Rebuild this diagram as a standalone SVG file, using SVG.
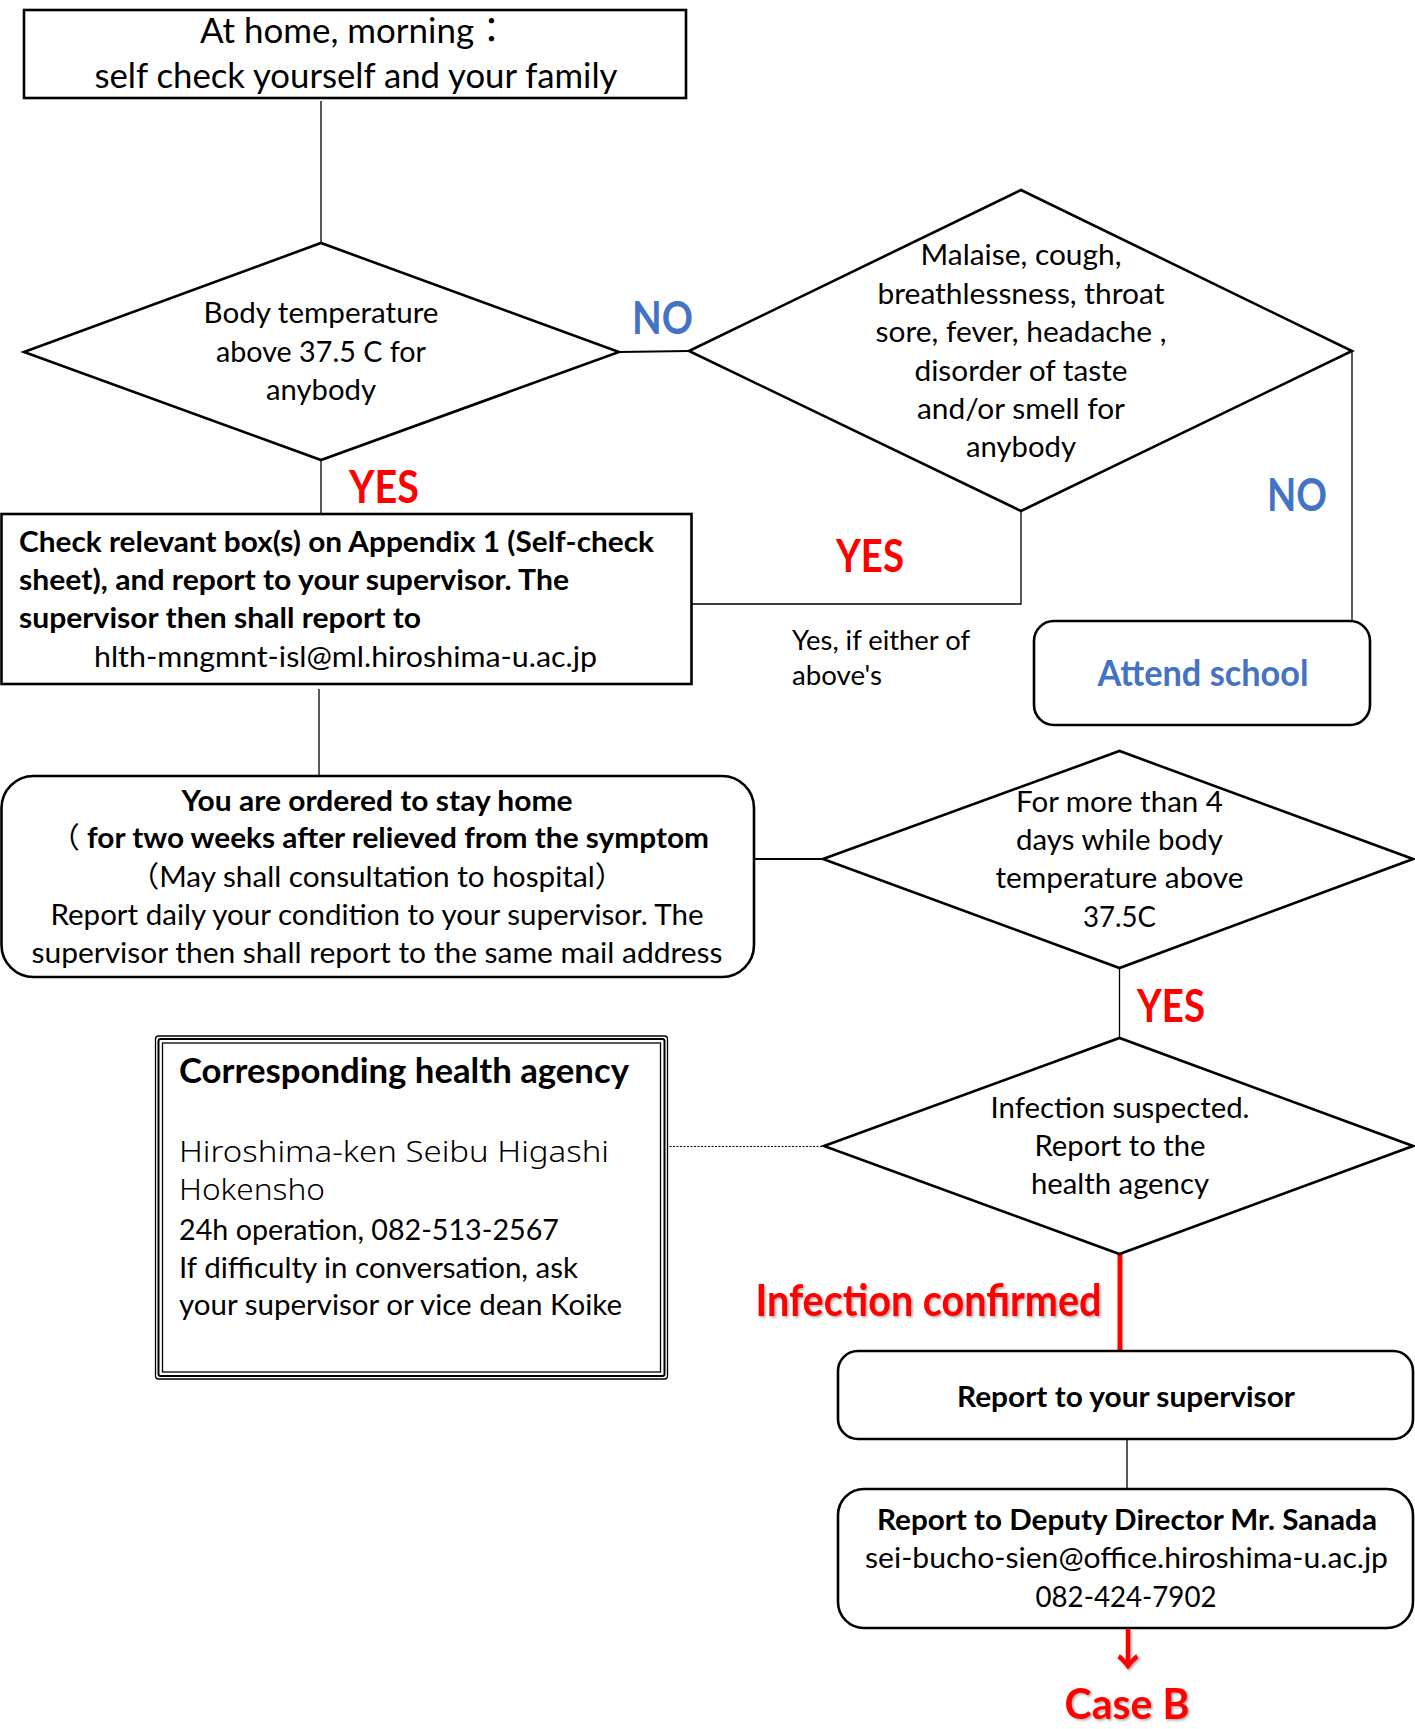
<svg xmlns="http://www.w3.org/2000/svg" width="1415" height="1729" viewBox="0 0 1415 1729">
<style>
.box{fill:#fff;stroke:#000;stroke-width:2.6}
.dia{fill:#fff;stroke:#000;stroke-width:2.6;stroke-linejoin:miter}
.conn{fill:none;stroke:#000;stroke-width:1.3}
.conn2{fill:none;stroke:#000;stroke-width:2}
.t{font-family:Lato,"Noto Sans CJK JP",sans-serif;font-size:29px;fill:#000}
.b{font-weight:bold}
.m{text-anchor:middle}
.no{font-family:Lato,sans-serif;font-weight:bold;font-size:45px;fill:#4472C4}
.yes{font-family:Lato,sans-serif;font-weight:bold;font-size:45px;fill:#FF0000}
.red{fill:#FF0000;font-weight:bold}
.hk{font-family:"Noto Sans","Noto Sans CJK JP",sans-serif;font-weight:300;font-size:29px;fill:#000}
</style>
<defs>
<filter id="sh" x="-10%" y="-10%" width="130%" height="140%">
<feDropShadow dx="1.5" dy="1.5" stdDeviation="1" flood-color="#000" flood-opacity="0.35"/>
</filter>
</defs>
<rect width="1415" height="1729" fill="#fff"/>

<g id="connectors">
<line class="conn" x1="321" y1="101" x2="321" y2="243"/>
<line class="conn2" x1="619" y1="352" x2="689" y2="351"/>
<line class="conn" x1="1352" y1="351" x2="1352" y2="621"/>
<polyline class="conn" points="1021,511 1021,604 692,604"/>
<line class="conn" x1="321" y1="460" x2="321" y2="514"/>
<line class="conn" x1="319" y1="689" x2="319" y2="776"/>
<line class="conn2" x1="754" y1="859" x2="823" y2="859"/>
<line class="conn" x1="1119.5" y1="968" x2="1119.5" y2="1038"/>
<line x1="659" y1="1146.5" x2="823" y2="1146.5" stroke="#000" stroke-width="1" stroke-dasharray="2 1.5"/>
<line x1="1120" y1="1254" x2="1120" y2="1351" stroke="#FF0000" stroke-width="5"/>
<line class="conn" x1="1127" y1="1440" x2="1127" y2="1488"/>
</g>

<g id="n-start">
<rect class="box" x="24" y="10" width="662" height="88"/>
<text class="t" x="200" y="43" style="font-size:35px" textLength="309" lengthAdjust="spacingAndGlyphs">At home, morning：</text>
<text class="t m" x="356" y="88" style="font-size:35px" textLength="523" lengthAdjust="spacingAndGlyphs">self check yourself and your family</text>
</g>

<g id="n-temp">
<polygon class="dia" points="24,352 321,243 619,352 321,460"/>
<text class="t m" x="321" y="323" textLength="235" lengthAdjust="spacingAndGlyphs">Body temperature</text>
<text class="t m" x="321" y="362" textLength="210" lengthAdjust="spacingAndGlyphs">above 37.5 C for</text>
<text class="t m" x="321" y="400" textLength="110" lengthAdjust="spacingAndGlyphs">anybody</text>
</g>

<g id="n-symptoms">
<polygon class="dia" points="689,351 1021,190 1352,351 1021,511"/>
<text class="t m" x="1021" y="265" textLength="201" lengthAdjust="spacingAndGlyphs">Malaise, cough,</text>
<text class="t m" x="1021" y="304" textLength="287" lengthAdjust="spacingAndGlyphs">breathlessness, throat</text>
<text class="t m" x="1021" y="342" textLength="291" lengthAdjust="spacingAndGlyphs">sore, fever, headache ,</text>
<text class="t m" x="1021" y="381" textLength="213" lengthAdjust="spacingAndGlyphs">disorder of taste</text>
<text class="t m" x="1021" y="419" textLength="208" lengthAdjust="spacingAndGlyphs">and/or smell for</text>
<text class="t m" x="1021" y="457" textLength="110" lengthAdjust="spacingAndGlyphs">anybody</text>
</g>

<g id="labels">
<text class="no" x="632" y="334" textLength="61" lengthAdjust="spacingAndGlyphs">NO</text>
<text class="no" x="1267" y="511" textLength="60" lengthAdjust="spacingAndGlyphs">NO</text>
<text class="yes" x="349" y="503" textLength="70" lengthAdjust="spacingAndGlyphs">YES</text>
<text class="yes" x="836" y="572" textLength="68" lengthAdjust="spacingAndGlyphs">YES</text>
<text class="yes" x="1137" y="1022" textLength="68" lengthAdjust="spacingAndGlyphs">YES</text>
<text class="t" x="792" y="650" style="font-size:27px" textLength="178" lengthAdjust="spacingAndGlyphs">Yes, if either of</text>
<text class="t" x="792" y="685" style="font-size:27px" textLength="90" lengthAdjust="spacingAndGlyphs">above's</text>
<text class="t red" x="755.5" y="1316" style="font-size:44px" textLength="346" lengthAdjust="spacingAndGlyphs" filter="url(#sh)">Infection confirmed</text>
</g>

<g id="n-check">
<rect class="box" x="1.5" y="514" width="690" height="170"/>
<text class="t b" x="19" y="552" textLength="635" lengthAdjust="spacingAndGlyphs">Check relevant box(s) on Appendix 1 (Self-check</text>
<text class="t b" x="19" y="590" textLength="550" lengthAdjust="spacingAndGlyphs">sheet), and report to your supervisor. The</text>
<text class="t b" x="19" y="628" textLength="402" lengthAdjust="spacingAndGlyphs">supervisor then shall report to</text>
<text class="t m" x="345.5" y="667" textLength="503" lengthAdjust="spacingAndGlyphs">hlth-mngmnt-isl@ml.hiroshima-u.ac.jp</text>
</g>

<g id="n-attend">
<rect class="box" x="1034" y="621" width="336" height="104" rx="20"/>
<text class="t b m" x="1203" y="686" style="font-size:36px;fill:#4472C4" textLength="211" lengthAdjust="spacingAndGlyphs">Attend school</text>
</g>

<g id="n-stayhome">
<rect class="box" x="1.5" y="776" width="752.5" height="201" rx="32"/>
<text class="t b m" x="377" y="811" textLength="391" lengthAdjust="spacingAndGlyphs">You are ordered to stay home</text>
<text class="t b" x="50" y="848" textLength="659" lengthAdjust="spacingAndGlyphs"><tspan font-weight="normal">（</tspan> for two weeks after relieved from the symptom</text>
<text class="t m" x="377" y="887" textLength="495" lengthAdjust="spacingAndGlyphs">（May shall consultation to hospital）</text>
<text class="t m" x="377" y="925" textLength="653" lengthAdjust="spacingAndGlyphs">Report daily your condition to your supervisor. The</text>
<text class="t m" x="377" y="963" textLength="691" lengthAdjust="spacingAndGlyphs">supervisor then shall report to the same mail address</text>
</g>

<g id="n-4days">
<polygon class="dia" points="823,859 1119.5,751 1413,859 1119.5,968"/>
<text class="t m" x="1119.5" y="812" textLength="207" lengthAdjust="spacingAndGlyphs">For more than 4</text>
<text class="t m" x="1119.5" y="850" textLength="207" lengthAdjust="spacingAndGlyphs">days while body</text>
<text class="t m" x="1119.5" y="888" textLength="248" lengthAdjust="spacingAndGlyphs">temperature above</text>
<text class="t m" x="1119.5" y="927" textLength="73" lengthAdjust="spacingAndGlyphs">37.5C</text>
</g>

<g id="n-suspected">
<polygon class="dia" points="824,1146 1119.5,1038 1413,1146 1119.5,1254"/>
<text class="t m" x="1120" y="1118" textLength="259" lengthAdjust="spacingAndGlyphs">Infection suspected.</text>
<text class="t m" x="1120" y="1156" textLength="171" lengthAdjust="spacingAndGlyphs">Report to the</text>
<text class="t m" x="1120" y="1194" textLength="178" lengthAdjust="spacingAndGlyphs">health agency</text>
</g>

<g id="n-agency">
<rect x="155.5" y="1036" width="512" height="343" rx="3" fill="#fff" stroke="#000" stroke-width="1.3"/>
<rect x="158.5" y="1039" width="506" height="337" rx="2" fill="none" stroke="#000" stroke-width="2"/>
<rect x="162.5" y="1043" width="498" height="329" fill="none" stroke="#000" stroke-width="1.3"/>
<text class="t b" x="179" y="1083" style="font-size:35px" textLength="450" lengthAdjust="spacingAndGlyphs">Corresponding health agency</text>
<text class="hk" x="179" y="1162" textLength="430" lengthAdjust="spacingAndGlyphs">Hiroshima-ken Seibu Higashi</text>
<text class="hk" x="179" y="1200" textLength="146" lengthAdjust="spacingAndGlyphs">Hokensho</text>
<text class="t" x="179" y="1240" textLength="380" lengthAdjust="spacingAndGlyphs">24h operation, 082-513-2567</text>
<text class="t" x="179" y="1278" textLength="399" lengthAdjust="spacingAndGlyphs">If difficulty in conversation, ask</text>
<text class="t" x="179" y="1315" textLength="443" lengthAdjust="spacingAndGlyphs">your supervisor or vice dean Koike</text>
</g>

<g id="n-supervisor">
<rect class="box" x="838" y="1351" width="575" height="88" rx="20"/>
<text class="t b m" x="1126" y="1407" textLength="338" lengthAdjust="spacingAndGlyphs">Report to your supervisor</text>
</g>

<g id="n-deputy">
<rect class="box" x="838" y="1489" width="575" height="139" rx="26"/>
<text class="t b m" x="1127" y="1530" textLength="500" lengthAdjust="spacingAndGlyphs">Report to Deputy Director Mr. Sanada</text>
<text class="t m" x="1126.5" y="1568" textLength="523" lengthAdjust="spacingAndGlyphs">sei-bucho-sien@office.hiroshima-u.ac.jp</text>
<text class="t m" x="1126" y="1607" textLength="181" lengthAdjust="spacingAndGlyphs">082-424-7902</text>
</g>

<g id="n-caseb">
<text x="1128" y="1666" text-anchor="middle" font-family="'Noto Sans CJK JP',sans-serif" font-weight="bold" font-size="44" fill="#FF0000" filter="url(#sh)">↓</text>
<text class="t red m" x="1127" y="1719" style="font-size:42px" textLength="125" lengthAdjust="spacingAndGlyphs" filter="url(#sh)">Case B</text>
</g>
</svg>
